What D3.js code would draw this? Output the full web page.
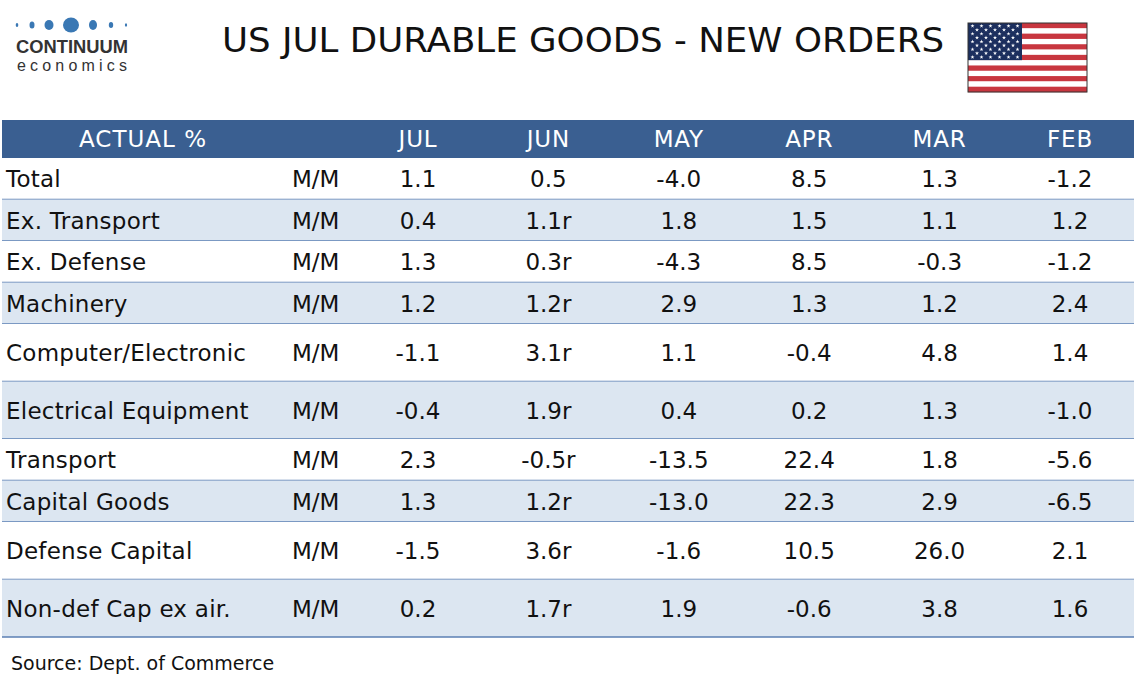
<!DOCTYPE html>
<html><head><meta charset="utf-8">
<script src="https://cdn.jsdelivr.net/npm/d3@7/dist/d3.min.js"></script>
<style>body{margin:0;background:#fff}svg{display:block}</style>
</head><body>
<svg id="c" width="1134" height="680"></svg>
<script>
const title = "US JUL DURABLE GOODS - NEW ORDERS";
const headerLabel = "ACTUAL %";
const months = ["JUL","JUN","MAY","APR","MAR","FEB"];
const categories = ["Total","Ex. Transport","Ex. Defense","Machinery","Computer/Electronic","Electrical Equipment","Transport","Capital Goods","Defense Capital","Non-def Cap ex air."];
const units = ["M/M","M/M","M/M","M/M","M/M","M/M","M/M","M/M","M/M","M/M"];
const valJUL = ["1.1","0.4","1.3","1.2","-1.1","-0.4","2.3","1.3","-1.5","0.2"];
const valJUN = ["0.5","1.1r","0.3r","1.2r","3.1r","1.9r","-0.5r","1.2r","3.6r","1.7r"];
const valMAY = ["-4.0","1.8","-4.3","2.9","1.1","0.4","-13.5","-13.0","-1.6","1.9"];
const valAPR = ["8.5","1.5","8.5","1.3","-0.4","0.2","22.4","22.3","10.5","-0.6"];
const valMAR = ["1.3","1.1","-0.3","1.2","4.8","1.3","1.8","2.9","26.0","3.8"];
const valFEB = ["-1.2","1.2","-1.2","2.4","1.4","-1.0","-5.6","-6.5","2.1","1.6"];
const source = "Source: Dept. of Commerce";

const columns = [valJUL,valJUN,valMAY,valAPR,valMAR,valFEB];
const svg = d3.select("#c");
const FONT = "'DejaVu Sans', Verdana, sans-serif";

// ---- logo
const dots = [[17,1.3,2],[32,2.5,3.5],[49,4.5,5],[71,8,7.5],[93,4,5],[111,2.2,3],[126,1.1,1.8]];
svg.append("g").selectAll("ellipse").data(dots).join("ellipse")
  .attr("cx",d=>d[0]).attr("cy",25).attr("rx",d=>d[1]).attr("ry",d=>d[2])
  .attr("fill","#3a78b4");
svg.append("text").attr("x",16).attr("y",52.5).text("CONTINUUM")
  .attr("font-family","'Liberation Sans Narrow','Liberation Sans',Arial,sans-serif").attr("font-weight","bold")
  .attr("font-size",18.5).attr("fill","#333").attr("textLength",112).attr("lengthAdjust","spacingAndGlyphs");
svg.append("text").attr("x",17).attr("y",71).text("economics")
  .attr("font-family","'Liberation Sans',Arial,sans-serif")
  .attr("font-size",16).attr("fill","#333").attr("textLength",110).attr("lengthAdjust","spacing");

// ---- title
svg.append("text").attr("x",583).attr("y",52).attr("text-anchor","middle")
  .attr("font-family",FONT).attr("font-size",33).attr("fill","#111")
  .attr("textLength",722).attr("lengthAdjust","spacingAndGlyphs").text(title);

// ---- flag
const fx=968, fy=23, fw=119, fh=69;
const flag = svg.append("g");
const sy = d3.scaleBand().domain(d3.range(13)).range([fy,fy+fh]);
flag.selectAll("rect.s").data(d3.range(13)).join("rect")
  .attr("x",fx).attr("y",d=>sy(d)).attr("width",fw).attr("height",sy.bandwidth()+0.2)
  .attr("fill",d=>d%2===0?"#c8363f":"#ffffff");
const cw=54, ch=sy(7)-fy;
flag.append("rect").attr("x",fx).attr("y",fy).attr("width",cw).attr("height",ch).attr("fill","#1c2f5e");
const stars=[];
for(let r=0;r<9;r++){const n=r%2===0?6:5;for(let c=0;c<n;c++){stars.push([fx+ (r%2===0? 4.5+c*9 : 9+c*9), fy+3+r*(ch-6)/8]);}}
flag.selectAll("path.st").data(stars).join("path")
  .attr("transform",d=>`translate(${d[0]},${d[1]})`)
  .attr("d",d3.symbol(d3.symbolStar,5)).attr("fill","#fff");
flag.append("rect").attr("x",fx).attr("y",fy).attr("width",fw).attr("height",fh)
  .attr("fill","none").attr("stroke","#333").attr("stroke-width",1);

// ---- table
const tableRight=1134;
const headerTop=120, headerH=38;
const tall = new Set(["Computer/Electronic","Electrical Equipment","Defense Capital","Non-def Cap ex air."]);
const rowH = c => tall.has(c)?57.5:41.5;
let yAcc = headerTop+headerH;
const rows = categories.map((c,i)=>{const r={i,c,y:yAcc,h:rowH(c)}; yAcc+=r.h; return r;});
const colX = d3.scalePoint().domain(months).range([418,1070]);
const FS = 23;

svg.append("rect").attr("x",2).attr("y",headerTop).attr("width",tableRight-2).attr("height",headerH).attr("fill","#3a5f91");
svg.append("text").attr("x",143).attr("y",headerTop+headerH/2).attr("dy","0.36em").attr("text-anchor","middle")
  .attr("font-family",FONT).attr("font-size",FS).attr("letter-spacing",1).attr("fill","#fff").text(headerLabel);
svg.append("g").selectAll("text").data(months).join("text")
  .attr("x",d=>colX(d)).attr("y",headerTop+headerH/2).attr("dy","0.36em").attr("text-anchor","middle")
  .attr("font-family",FONT).attr("font-size",FS).attr("letter-spacing",0.8).attr("fill","#fff").text(d=>d);

const g = svg.append("g");
const rg = g.selectAll("g.row").data(rows).join("g");
rg.append("rect").attr("x",2).attr("y",d=>d.y).attr("width",tableRight-2).attr("height",d=>d.h)
  .attr("fill",d=>d.i%2===1?"#dce6f1":"#ffffff");
rg.append("line").attr("x1",2).attr("x2",tableRight).attr("y1",d=>d.y+d.h).attr("y2",d=>d.y+d.h)
  .attr("stroke","#5b7fb3").attr("stroke-width",1.3);
rg.append("text").attr("x",6).attr("y",d=>d.y+d.h/2).attr("dy","0.36em")
  .attr("font-family",FONT).attr("font-size",FS).attr("letter-spacing",0.25).attr("fill","#111").text(d=>d.c);
rg.append("text").attr("x",292).attr("y",d=>d.y+d.h/2).attr("dy","0.36em")
  .attr("font-family",FONT).attr("font-size",FS).attr("fill","#111").text(d=>units[d.i]);
months.forEach((m,k)=>{
  rg.append("text").attr("x",colX(m)).attr("y",d=>d.y+d.h/2).attr("dy","0.36em").attr("text-anchor","middle")
    .attr("font-family",FONT).attr("font-size",FS).attr("fill","#111").text(d=>columns[k][d.i]);
});

svg.append("text").attr("x",11).attr("y",670).attr("font-family",FONT).attr("font-size",19).attr("fill","#111").text(source);
</script>
</body></html>
